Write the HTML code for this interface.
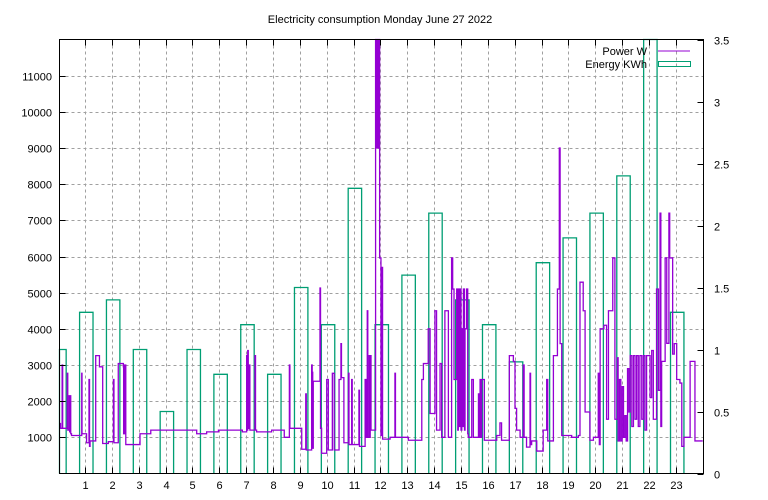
<!DOCTYPE html>
<html><head><meta charset="utf-8"><style>
body{margin:0;background:#fff}
svg{display:block;font-family:"Liberation Sans",sans-serif;font-size:11px}
</style></head><body>
<svg id="c" width="768" height="500">
<text x="380" y="23" text-anchor="middle">Electricity consumption Monday June 27 2022</text>
<g id="grid"></g><g id="energy"></g><g id="power"></g><g id="axes"></g>
<g>
<text x="647" y="55" text-anchor="end">Power W</text>
<line x1="658" y1="51" x2="690" y2="51" stroke="#9400d3" stroke-width="1"/>
<text x="647" y="68" text-anchor="end">Energy KWh</text>
<rect x="658.5" y="61.5" width="32" height="5" fill="none" stroke="#009e73"/>
</g>
</svg>
<script>
const hours=[0,1,2,3,4,5,6,7,8,9,10,11,12,13,14,15,16,17,18,19,20,21,22,23];
const energyKWh=[1.0,1.3,1.4,1.0,0.5,1.0,0.8,1.2,0.8,1.5,1.2,2.3,1.2,1.6,2.1,1.4,1.2,0.9,1.7,1.9,2.1,2.4,3.8,1.3];
const xTickLabels=["1","2","3","4","5","6","7","8","9","10","11","12","13","14","15","16","17","18","19","20","21","22","23"];
const yTickLabels=["1000","2000","3000","4000","5000","6000","7000","8000","9000","10000","11000"];
const y2TickLabels=["0","0.5","1","1.5","2","2.5","3","3.5"];
const powerT=[0,0.05,0.15,0.17,0.34,0.36,0.41,0.43,0.45,0.47,0.50,0.88,0.89,1.06,1.15,1.17,1.19,1.40,1.54,1.66,1.87,2.06,2.08,2.24,2.43,2.44,2.46,2.48,2.50,2.52,3.05,3.45,5.16,5.53,5.97,6.86,7.02,7.04,7.06,7.08,7.12,7.14,7.33,7.35,7.39,7.95,8.42,8.61,8.63,9.07,9.22,9.24,9.44,9.46,9.48,9.50,9.75,9.77,9.81,10.00,10.06,10.21,10.28,10.46,10.53,10.55,10.64,10.81,10.83,10.93,10.95,11.20,11.22,11.43,11.46,11.49,11.51,11.53,11.58,11.60,11.62,11.65,11.82,11.85,11.87,11.90,11.93,11.97,12.02,12.05,12.08,12.36,12.54,12.56,13.04,13.54,13.60,13.78,13.85,14.03,14.09,14.22,14.28,14.40,14.53,14.65,14.69,14.74,14.84,14.88,14.90,14.94,14.96,15.00,15.03,15.07,15.09,15.13,15.15,15.21,15.25,15.27,15.40,15.46,15.65,15.67,15.71,15.73,15.77,15.87,16.33,16.45,16.51,16.80,16.95,17.01,17.07,17.20,17.32,17.35,17.44,17.57,17.59,17.63,17.82,18.06,18.19,18.23,18.44,18.59,18.66,18.69,18.75,19.12,19.37,19.43,19.55,19.62,19.80,19.93,20.11,20.15,20.18,20.32,20.42,20.49,20.65,20.73,20.82,20.85,20.90,20.95,21.00,21.05,21.10,21.15,21.20,21.25,21.30,21.36,21.42,21.48,21.54,21.60,21.66,21.73,21.79,21.85,21.91,22.04,22.10,22.16,22.28,22.35,22.41,22.44,22.47,22.60,22.66,22.74,22.77,22.88,22.94,23.03,23.15,23.22,23.30,23.53,23.71,24.0];
const powerW=[1400,1250,3000,1250,2770,1200,2150,1150,2150,1100,1050,2770,1100,850,2600,750,900,3260,2950,830,880,2600,850,3040,2950,1100,3000,1100,3000,800,1100,1200,1100,1150,1200,1150,3260,1200,3400,1250,3000,1200,3260,1200,1150,1200,1000,3000,1250,670,2200,650,3000,2800,700,2550,5130,1250,560,2600,650,2770,650,2600,3590,2650,850,2770,800,2600,800,2300,750,2600,1000,2600,4500,1000,3260,1000,3260,1200,12000,9000,12000,9000,12000,5960,1050,5700,950,1000,2770,1000,920,2600,3040,4000,1660,4500,1200,3040,1000,4500,1000,5960,5100,2600,5100,1200,5100,1300,5100,1200,4000,1300,5100,1200,4000,5100,1100,1000,2600,1000,2200,1000,2600,1000,2600,920,1050,1400,920,3260,3100,1800,1200,1000,3000,1000,730,2770,800,900,620,1200,2600,900,3260,5100,9000,3590,1050,1000,1050,5290,4500,1700,920,1000,2770,800,4000,4100,1500,4500,5960,1500,3200,900,2600,900,2400,1000,1600,900,2900,1700,3260,1300,3260,1500,3260,1300,3260,1500,3260,1200,3260,2100,3400,1500,5100,2300,7200,1300,3100,5960,3600,7200,5960,3300,3590,2600,2500,750,1000,3100,900,900];
const NS="http://www.w3.org/2000/svg";
const L=59.5,R=703.5,T=39.5,B=473.5;
const xS=h=>58.1+h*26.86;
const yS=w=>B-w/12000*(B-T);
const y2S=e=>B-e/3.5*(B-T);
function mk(tag,attrs,parent){const e=document.createElementNS(NS,tag);for(const k in attrs)e.setAttribute(k,attrs[k]);parent.appendChild(e);return e;}
const grid=document.getElementById('grid'),axes=document.getElementById('axes');
xTickLabels.forEach((lb,i)=>{const x=Math.round(xS(+lb))+0.5;
const g=mk('line',{x1:x,y1:T,x2:x,y2:B,stroke:'#a0a0a0','stroke-dasharray':'3,3'},grid);


mk('line',{x1:x,y1:B,x2:x,y2:B-6,stroke:'#000'},axes);
mk('line',{x1:x,y1:T,x2:x,y2:T+6,stroke:'#000'},axes);
const t=mk('text',{x:x,y:489,'text-anchor':'middle'},axes);t.textContent=lb;

});
yTickLabels.forEach(lb=>{const y=Math.round(yS(+lb))+0.5;
const g=mk('line',{x1:L,y1:y,x2:R,y2:y,stroke:'#a0a0a0','stroke-dasharray':'3,3'},grid);


mk('line',{x1:L,y1:y,x2:L+6,y2:y,stroke:'#000'},axes);
const t=mk('text',{x:52,y:y+4,'text-anchor':'end'},axes);t.textContent=lb;

});
y2TickLabels.forEach(lb=>{const y=Math.round(y2S(+lb))+0.5;
mk('line',{x1:R,y1:y,x2:R-6,y2:y,stroke:'#000'},axes);
const t=mk('text',{x:714,y:y+4},axes);t.textContent=lb;

});
const fr=mk('rect',{x:L,y:T,width:R-L,height:B-T,fill:'none',stroke:'#000'},axes);


// energy boxes
const eg=document.getElementById('energy');
hours.forEach((h,i)=>{let x1=xS(h-0.2),x2=xS(h+0.3);x1=Math.max(x1,L);const y=Math.max(y2S(energyKWh[i]),T);
const b=mk('polyline',{points:`${x1},${B} ${x1},${y} ${x2},${y} ${x2},${B}`,fill:'none',stroke:'#009e73','stroke-width':1.3},eg);

});
// power steps
let pts=[];
for(let i=0;i<powerT.length;i++){const x=Math.max(xS(powerT[i]),L+1);const y=Math.max(yS(powerW[i]),T);
if(i>0)pts.push(`${x},${Math.max(yS(powerW[i-1]),T)}`);pts.push(`${x},${y}`);}
const pl=mk('polyline',{points:pts.join(' '),fill:'none',stroke:'#9400d3','stroke-width':1.3},document.getElementById('power'));


</script>
</body></html>
